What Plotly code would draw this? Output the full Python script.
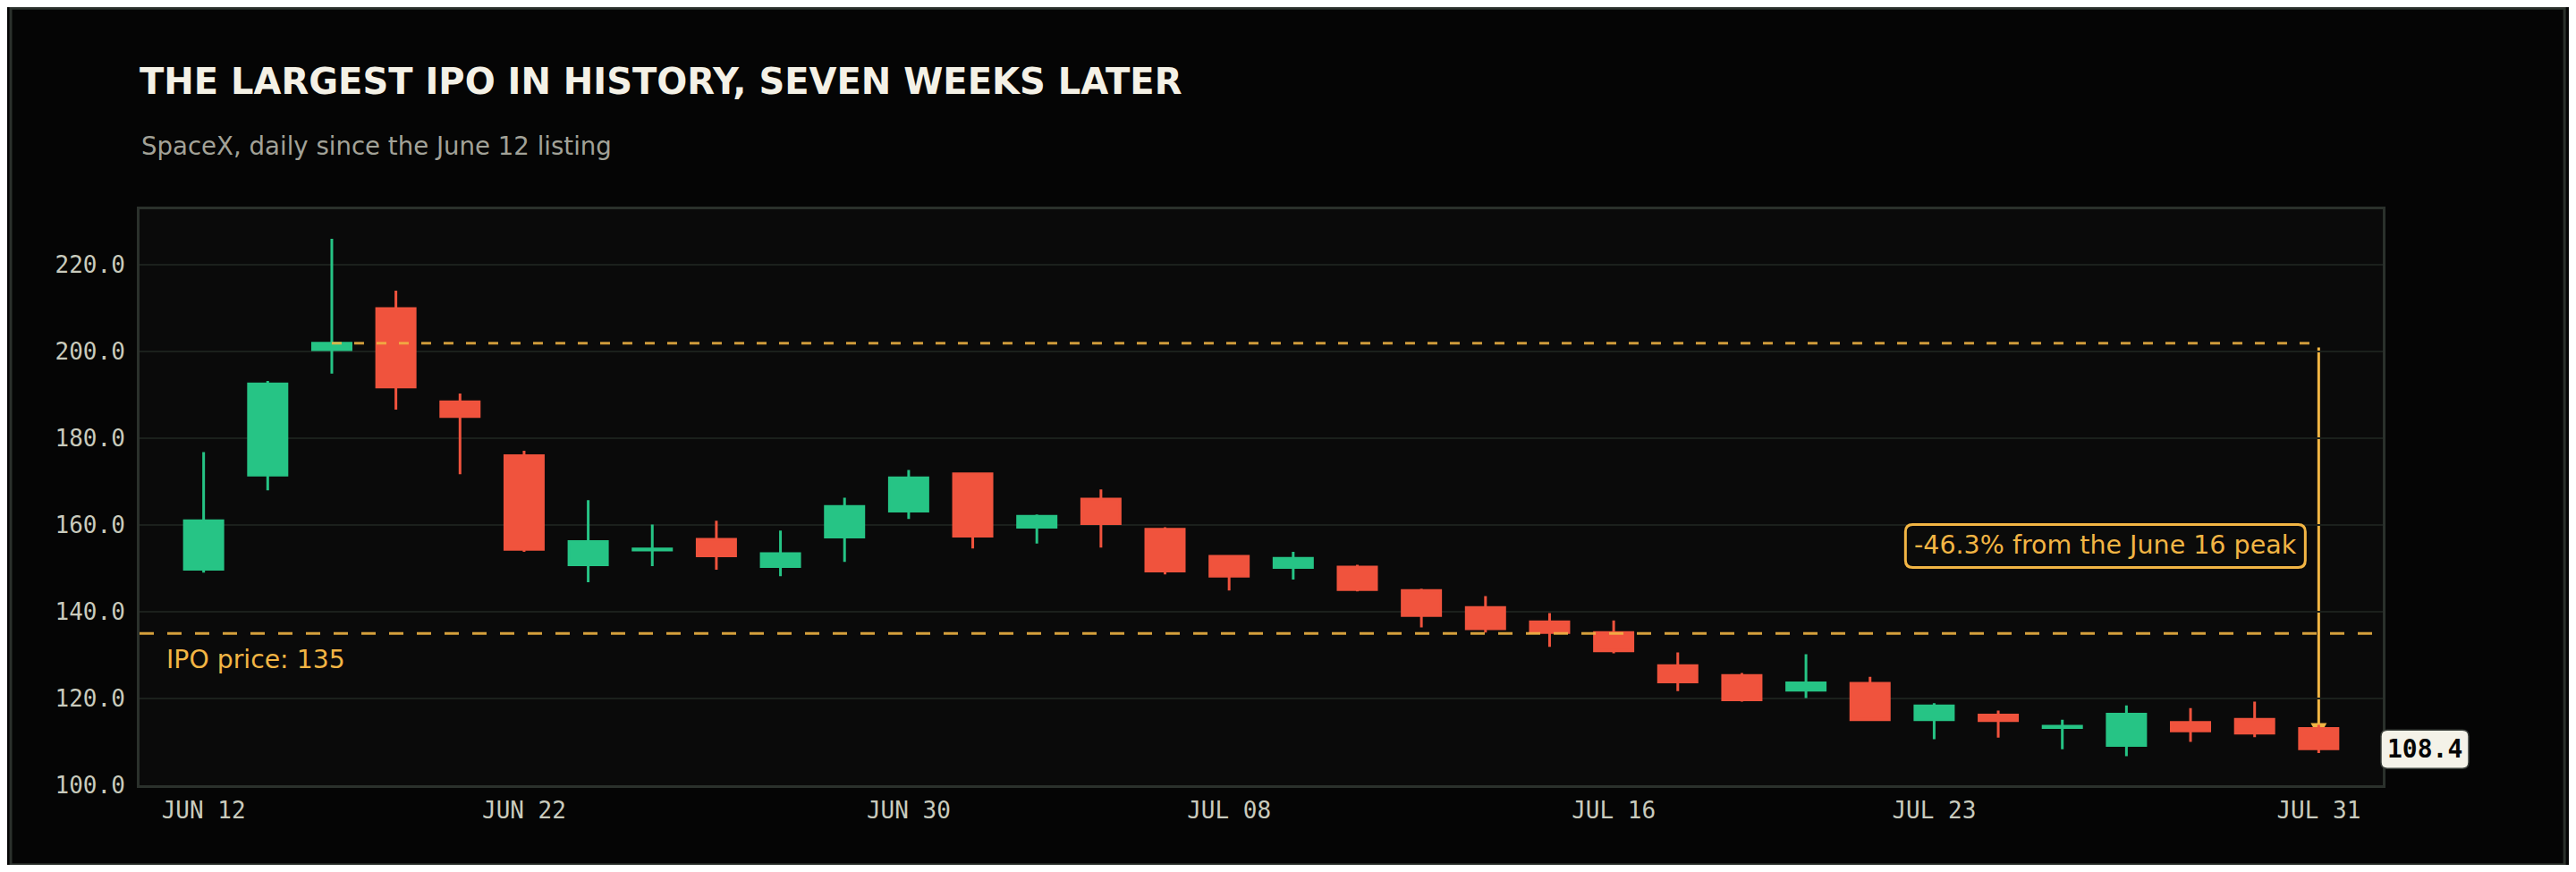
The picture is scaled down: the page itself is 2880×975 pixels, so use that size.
import plotly.graph_objects as go

# SpaceX daily candles since the June 12 listing (trading days only)
dates = ['Jun 12', 'Jun 15', 'Jun 16', 'Jun 17', 'Jun 18', 'Jun 22', 'Jun 23', 'Jun 24',
         'Jun 25', 'Jun 26', 'Jun 29', 'Jun 30', 'Jul 01', 'Jul 02', 'Jul 06', 'Jul 07',
         'Jul 08', 'Jul 09', 'Jul 10', 'Jul 13', 'Jul 14', 'Jul 15', 'Jul 16', 'Jul 17',
         'Jul 20', 'Jul 21', 'Jul 22', 'Jul 23', 'Jul 24', 'Jul 27', 'Jul 28', 'Jul 29',
         'Jul 30', 'Jul 31']
opens = [149.8, 171.5, 200.4, 209.9, 188.4, 176.0, 150.8, 154.2, 156.7, 150.4, 157.2, 163.2,
         171.8, 159.5, 166.0, 159.0, 152.8, 150.2, 150.3, 144.9, 141.0, 137.7, 135.2, 127.6,
         125.3, 121.9, 123.5, 115.1, 116.2, 113.3, 109.2, 114.5, 115.2, 113.1]
highs = [176.8, 193.2, 226.0, 214.0, 190.3, 177.1, 165.7, 160.1, 161.0, 158.7, 166.3, 172.7,
         171.9, 162.4, 168.2, 159.5, 153.1, 153.8, 150.8, 145.3, 143.6, 139.7, 138.0, 130.6,
         125.9, 130.2, 125.0, 118.9, 117.2, 115.1, 118.4, 117.8, 119.3, 113.9]
lows = [149.0, 168.0, 194.9, 186.6, 171.7, 153.8, 146.8, 150.5, 149.7, 148.2, 151.5, 161.4,
        154.6, 155.7, 154.8, 148.6, 144.9, 147.4, 144.7, 136.4, 135.2, 131.9, 130.4, 121.7,
        119.3, 120.1, 114.9, 110.6, 111.0, 108.3, 106.7, 110.0, 111.1, 107.4]
closes = [161.0, 192.5, 201.9, 191.8, 185.0, 154.4, 156.2, 154.5, 152.9, 153.4, 164.3, 170.9,
          157.4, 162.0, 160.3, 149.4, 148.2, 152.3, 145.1, 139.1, 136.1, 135.2, 131.0, 123.8,
          119.7, 123.6, 115.1, 118.3, 114.9, 113.6, 116.4, 112.5, 112.0, 108.4]

ipo_price = 135
peak_idx = 2  # June 16 close
tick_idx = [0, 5, 11, 16, 22, 27, 33]

GREEN = '#26c485'
RED = '#f0533d'
GOLD = '#f2b544'
GRID = '#1b201c'
FRAME = '#2b312c'
TICK = '#c9cbbd'

peak = closes[peak_idx]
last = closes[-1]
drop = (last / peak - 1) * 100
mid = (peak + last) / 2

# page has an 8px body margin, so the figure is 16px smaller than the window
W, H = 2864, 959


def rrect(x0, y0, x1, y1, r):
    # rounded rectangle as an svg path (pixel units)
    return (f'M{x0 + r},{y0} H{x1 - r} Q{x1},{y0} {x1},{y0 + r} V{y1 - r} '
            f'Q{x1},{y1} {x1 - r},{y1} H{x0 + r} Q{x0},{y1} {x0},{y1 - r} '
            f'V{y0 + r} Q{x0},{y0} {x0 + r},{y0} Z')


fig = go.Figure()

fig.add_trace(go.Candlestick(
    x=dates, open=opens, high=highs, low=lows, close=closes,
    increasing=dict(line=dict(color=GREEN, width=3), fillcolor=GREEN),
    decreasing=dict(line=dict(color=RED, width=3), fillcolor=RED),
    showlegend=False,
))

# IPO price line
fig.add_shape(type='line', xref='paper', x0=0, x1=1, yref='y', y0=ipo_price, y1=ipo_price,
              line=dict(color=GOLD, width=3, dash='16px,15px'), opacity=0.88)
# peak close carried forward
fig.add_shape(type='line', xref='x', x0=dates[peak_idx], x1=dates[-1], yref='y', y0=peak, y1=peak,
              line=dict(color=GOLD, width=3, dash='11px,14px'), opacity=0.85)
# drop from the peak to the last candle, with a small head hidden behind the body
fig.add_shape(type='line', xref='x', x0=dates[-1], x1=dates[-1], yref='y', y0=peak - 1, y1=opens[-1],
              line=dict(color=GOLD, width=3), layer='below')
fig.add_shape(type='path', xref='x', yref='y', xsizemode='pixel', ysizemode='pixel',
              xanchor=dates[-1], yanchor=opens[-1], path='M-9,6 L9,6 L0,-10 Z',
              fillcolor=GOLD, line=dict(width=0), layer='below')

# outer frame around the whole card
fig.add_shape(type='rect', xref='paper', yref='paper', x0=-0.0574, x1=1.081, y0=-0.138, y1=1.349,
              line=dict(color=FRAME, width=3))

# rounded boxes behind the callout and the last price
fig.add_shape(type='path', xref='x', yref='y', xsizemode='pixel', ysizemode='pixel',
              xanchor=dates[-1], yanchor=mid, path=rrect(-462, -24, -15, 24, 8),
              fillcolor='#0b0b0a', line=dict(color=GOLD, width=3))
fig.add_shape(type='path', xref='paper', yref='y', xsizemode='pixel', ysizemode='pixel',
              xanchor=1, yanchor=last, path=rrect(-2, -22, 96, 21, 7),
              fillcolor='#f4f2e8', line=dict(color='#3b403b', width=1.5))

fig.add_annotation(x=0, xref='paper', y=ipo_price, yref='y', text=f'IPO price: {ipo_price}',
                   showarrow=False, xanchor='left', yanchor='middle', xshift=28, yshift=-29,
                   font=dict(family='DejaVu Sans', size=28.3, color=GOLD))

fig.add_annotation(x=dates[-1], y=mid, text=f'{drop:.1f}% from the June 16 peak',
                   showarrow=False, xanchor='center', yanchor='middle', xshift=-238.5, yshift=1,
                   font=dict(family='DejaVu Sans', size=28.5, color=GOLD))

fig.add_annotation(x=1, xref='paper', y=last, yref='y', text=f'<b>{last:.1f}</b>',
                   showarrow=False, xanchor='center', yanchor='middle', xshift=47, yshift=0,
                   font=dict(family='DejaVu Sans Mono', size=28, color='#050505'))

fig.add_annotation(x=0, xref='paper', y=1.11, yref='paper', text='SpaceX, daily since the June 12 listing',
                   showarrow=False, xanchor='left', yanchor='middle',
                   font=dict(family='DejaVu Sans', size=27.6, color='#a2a298'))

fig.update_layout(
    width=W, height=H,
    margin=dict(l=148, r=208, t=226, b=89),
    paper_bgcolor='#050505', plot_bgcolor='#0a0a0a',
    title=dict(text='<b>THE LARGEST IPO IN HISTORY, SEVEN WEEKS LATER</b>',
               x=148 / W, xref='container', xanchor='left',
               y=1 - 83 / H, yref='container', yanchor='middle',
               font=dict(family='DejaVu Sans', size=40, color='#f4f1e6')),
    boxgap=0.4, boxgroupgap=0,
    showlegend=False,
)

fig.update_xaxes(type='category', categoryorder='array', categoryarray=dates,
                 range=[-1, len(dates)], rangeslider_visible=False,
                 tickvals=[dates[i] for i in tick_idx],
                 ticktext=[dates[i].upper() for i in tick_idx],
                 showgrid=False, ticks='', ticklabelstandoff=3,
                 tickfont=dict(family='DejaVu Sans Mono', size=26, color=TICK),
                 showline=True, mirror=True, linecolor=FRAME, linewidth=3)
fig.update_yaxes(range=[100, max(highs) * 1.03], tick0=100, dtick=20, tickformat='.1f',
                 showgrid=True, gridcolor=GRID, gridwidth=2, zeroline=False, ticks='',
                 ticklabelstandoff=8,
                 tickfont=dict(family='DejaVu Sans Mono', size=26, color=TICK),
                 showline=True, mirror=True, linecolor=FRAME, linewidth=3)

fig.write_html("out.html")
